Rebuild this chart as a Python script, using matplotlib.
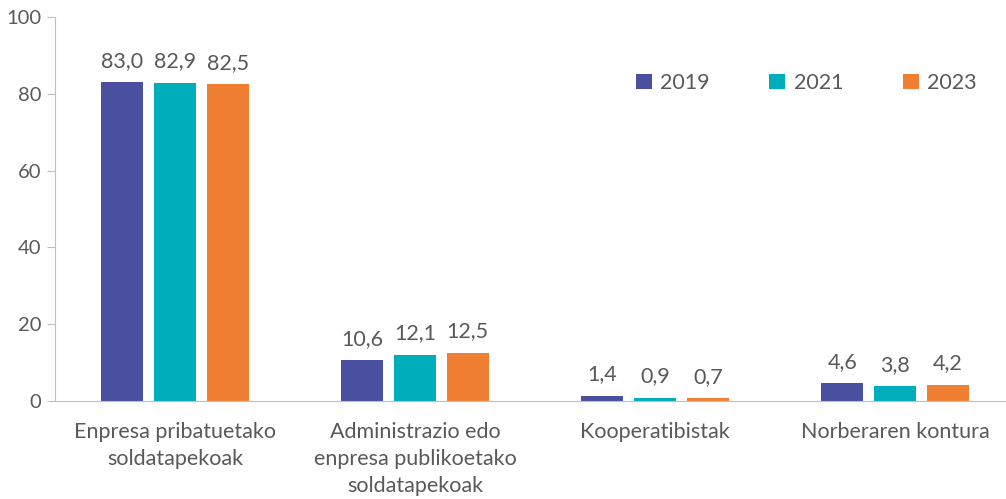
import matplotlib.pyplot as plt
import numpy as np

categories = ['Enpresa pribatuetako\nsoldatapekoak',
              'Administrazio edo\nenpresa publikoetako\nsoldatapekoak',
              'Kooperatibistak',
              'Norberaren kontura']
years = ['2019', '2021', '2023']
v2019 = [83.0, 10.6, 1.4, 4.6]
v2021 = [82.9, 12.1, 0.9, 3.8]
v2023 = [82.5, 12.5, 0.7, 4.2]
colors = ['#4A4F9F', '#00AEBB', '#F07F33']

plt.rcParams['font.family'] = ['Lato', 'DejaVu Sans']
gris = '#595959'

fig = plt.figure(figsize=(10.06, 4.99), dpi=100)
ax = fig.add_axes([55/1006, 98/499, 951/1006, 384/499])

x = np.arange(len(categories))
w = 0.175
pitch = 0.22
for i, (vals, lab) in enumerate(zip([v2019, v2021, v2023], years)):
    bars = ax.bar(x + (i - 1)*pitch, vals, w, color=colors[i], label=lab)
    for b, v in zip(bars, vals):
        ax.text(b.get_x() + b.get_width()/2, v + 3, f'{v:.1f}'.replace('.', ','),
                ha='center', va='bottom', fontsize=15.5, color=gris)

ax.set_xlim(-0.5, 3.4625)
ax.set_ylim(0, 100)
ax.set_yticks(range(0, 101, 20))
ax.set_xticks(x)
ax.set_xticklabels(categories, fontsize=15.5, color=gris, linespacing=1.45)
ax.tick_params(axis='x', length=0, pad=15)
ax.tick_params(axis='y', labelsize=14.5, labelcolor=gris, color='#BFBFBF', length=6, pad=4)
for s in ['top', 'right']:
    ax.spines[s].set_visible(False)
for s in ['left', 'bottom']:
    ax.spines[s].set_color('#BFBFBF')

ax.legend(loc='center', bbox_to_anchor=(0.79, 0.828), ncol=3, frameon=False,
          fontsize=15.5, labelcolor=gris, handlelength=0.75, handleheight=0.75,
          handletextpad=0.4, columnspacing=2.75)

plt.savefig('out.png', dpi=100)
